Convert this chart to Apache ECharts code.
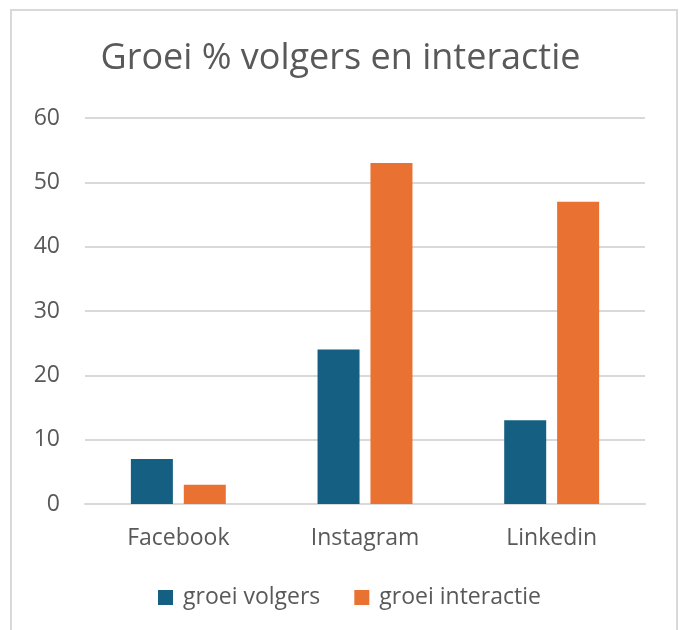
<!DOCTYPE html>
<html>
<head>
<meta charset="utf-8">
<script src="https://cdn.jsdelivr.net/npm/echarts@6/dist/echarts.min.js"></script>
<style>
html,body{margin:0;padding:0;background:#fff;}
#chart{width:681px;height:630px;}
</style>
</head>
<body>
<div id="chart"></div>
<script>
const titleText = 'Groei % volgers en interactie';
const categories = ['Facebook', 'Instagram', 'Linkedin'];
const seriesNames = ['groei volgers', 'groei interactie'];
const groeiVolgers = [7, 24, 13];
const groeiInteractie = [3, 53, 47];
const yTicks = { min: 0, max: 60, interval: 10 };

const chart = echarts.init(document.getElementById('chart'), null, { renderer: 'canvas' });
const font = 'Open Sans';
chart.setOption({
  backgroundColor: '#ffffff',
  animation: false,
  graphic: [{
    type: 'rect',
    shape: { x: 11, y: 10, width: 666, height: 640 },
    style: { fill: 'none', stroke: '#d9d9d9', lineWidth: 2 },
    silent: true
  }],
  title: {
    text: titleText,
    left: 'center',
    top: 36,
    textStyle: { fontFamily: font, fontSize: 36, fontWeight: 'normal', color: '#595959' }
  },
  legend: {
    data: seriesNames,
    bottom: 16,
    left: 153,
    itemWidth: 15,
    itemHeight: 15,
    itemGap: 34,
    icon: 'rect',
    textStyle: { fontFamily: font, fontSize: 23, color: '#595959', padding: [0, 0, 0, 5] }
  },
  grid: { left: 85, right: 36, top: 118, bottom: 126, containLabel: false },
  xAxis: {
    type: 'category',
    data: categories,
    axisLine: { show: true, lineStyle: { color: '#d9d9d9', width: 2 } },
    axisTick: { show: false },
    axisLabel: { fontFamily: font, fontSize: 23, color: '#595959', margin: 23 }
  },
  yAxis: {
    type: 'value',
    min: yTicks.min,
    max: yTicks.max,
    interval: yTicks.interval,
    axisLine: { show: false },
    axisTick: { show: false },
    splitLine: { lineStyle: { color: '#d9d9d9', width: 2 } },
    axisLabel: { fontFamily: font, fontSize: 23, color: '#595959', margin: 25 }
  },
  series: [
    {
      name: seriesNames[0], type: 'bar', data: groeiVolgers,
      barWidth: '22.5%', barGap: '26%',
      itemStyle: { color: '#156082' }
    },
    {
      name: seriesNames[1], type: 'bar', data: groeiInteractie,
      barWidth: '22.5%', barGap: '26%',
      itemStyle: { color: '#E97132' }
    }
  ]
});
</script>
</body>
</html>
